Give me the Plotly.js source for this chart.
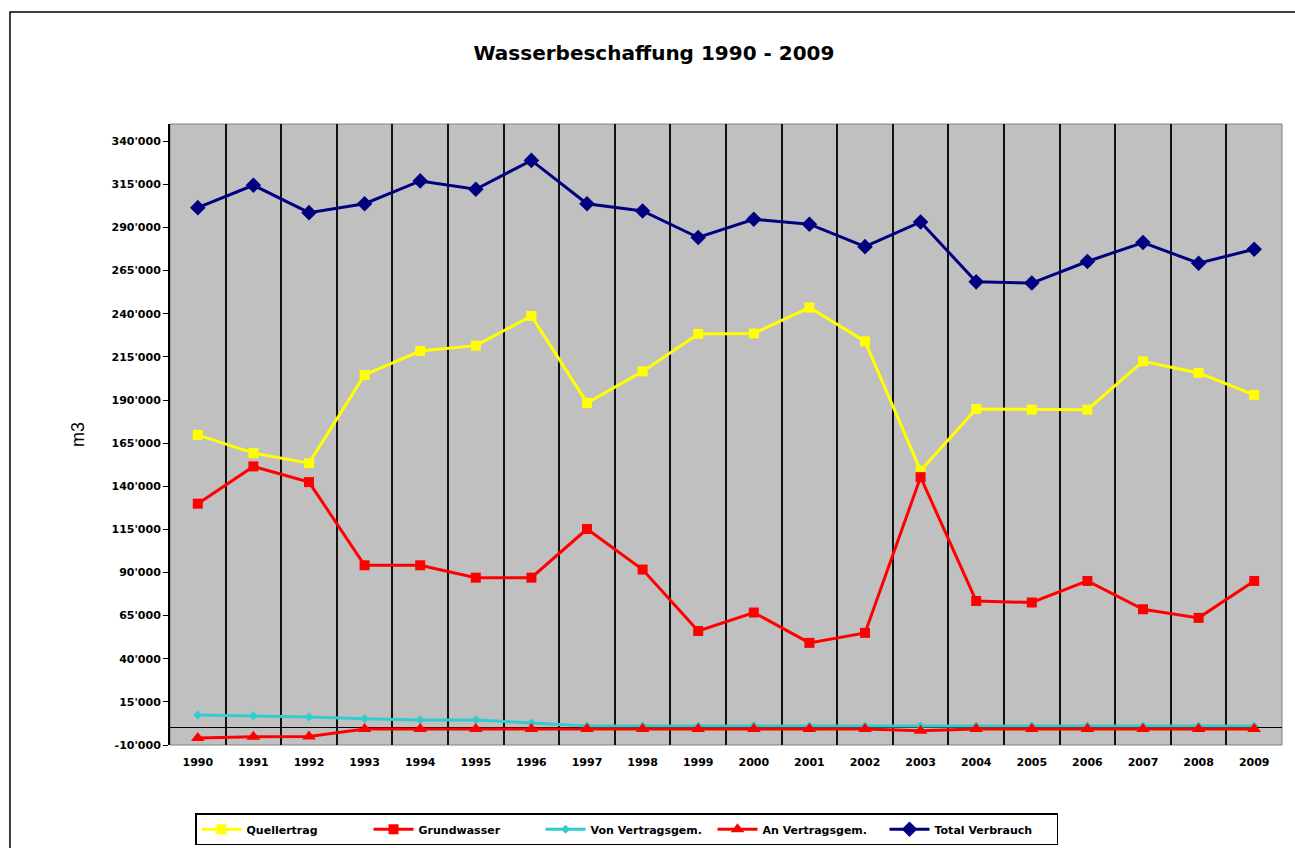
<!DOCTYPE html>
<html>
<head>
<meta charset="utf-8">
<script src="https://cdn.plot.ly/plotly-3.0.1.min.js"></script>
<style>
  html, body { margin: 0; padding: 0; background: #ffffff; }
  #chart { width: 1295px; height: 848px; }
</style>
</head>
<body>
<div id="chart"></div>
<script>
// ---- data ----
const years = ["1990","1991","1992","1993","1994","1995","1996","1997","1998","1999",
               "2000","2001","2002","2003","2004","2005","2006","2007","2008","2009"];

const quellertrag = [169800, 159200, 153400, 204500, 218400, 221500, 238700, 188300, 206600, 228300,
                     228600, 243600, 224000, 149100, 184800, 184400, 184400, 212400, 205700, 193000];

const grundwasser = [129900, 151500, 142400, 94200, 94200, 87000, 87000, 115200, 91700, 56100,
                     66800, 49200, 55000, 145300, 73500, 72600, 85100, 68700, 63700, 85100];

const vonVertragsgem = [7400, 7000, 6200, 5200, 4500, 4500, 2700, 1000, 1000, 1000,
                        1300, 1000, 1000, 1200, 1000, 1000, 1000, 1000, 1000, 1000];

const anVertragsgem = [-6000, -5200, -5000, -700, -700, -700, -700, -700, -700, -700,
                       -700, -700, -700, -1800, -700, -700, -700, -700, -700, -700];

const totalVerbrauch = [301500, 314500, 298600, 303800, 317000, 312200, 328900, 303800, 299600, 284200,
                        294800, 291900, 278900, 293200, 258500, 257800, 270300, 281300, 269300, 277400];

const seriesNames = ["Quellertrag", "Grundwasser", "Von Vertragsgem.", "An Vertragsgem.", "Total Verbrauch"];

const yTickVals = [-10000, 15000, 40000, 65000, 90000, 115000, 140000, 165000, 190000,
                   215000, 240000, 265000, 290000, 315000, 340000];
const yTickText = ["-10'000", "15'000", "40'000", "65'000", "90'000", "115'000", "140'000", "165'000", "190'000",
                   "215'000", "240'000", "265'000", "290'000", "315'000", "340'000"];

// ---- traces ----
function tr(name, y, color, symbol, size) {
  return {
    type: "scatter", mode: "lines+markers", name: name, x: years, y: y,
    line: { color: color, width: 3 },
    marker: { color: color, symbol: symbol, size: size, line: { width: 0 } },
    hoverinfo: "x+y+name"
  };
}

const data = [
  tr(seriesNames[0], quellertrag, "#ffff00", "square", 10),
  tr(seriesNames[1], grundwasser, "#ff0000", "square", 10),
  tr(seriesNames[2], vonVertragsgem, "#33cccc", "diamond", 7),
  tr(seriesNames[3], anVertragsgem, "#ff0000", "triangle-up", 12),
  tr(seriesNames[4], totalVerbrauch, "#000080", "diamond", 12)
];

const FONT = "DejaVu Sans, Verdana, sans-serif";

const layout = {
  width: 1295, height: 848,
  paper_bgcolor: "#ffffff",
  plot_bgcolor: "#c0c0c0",
  margin: { l: 170, r: 13, t: 124, b: 103, autoexpand: false },
  font: { family: FONT, color: "#000000", size: 10 },
  title: {
    text: "<b>Wasserbeschaffung 1990 - 2009</b>",
    font: { family: FONT, size: 20, color: "#000000" },
    x: 0.505, xref: "container", xanchor: "center",
    y: 0.937, yref: "container", yanchor: "middle"
  },
  showlegend: true,
  legend: {
    orientation: "h",
    x: 0.0225, xanchor: "left",
    y: -0.11, yanchor: "top",
    bgcolor: "#ffffff",
    bordercolor: "#000000", borderwidth: 1.5,
    font: { family: FONT, size: 11, color: "#000000", weight: "bold" },
    itemwidth: 40,
    entrywidth: 117, entrywidthmode: "pixels",
    traceorder: "normal",
    tracegroupgap: 0
  },
  xaxis: {
    type: "category",
    range: [-0.5, 19.5],
    tickson: "boundaries",
    showgrid: true, gridcolor: "#111111", gridwidth: 2,
    ticks: "", ticklabelstandoff: 9,
    tickfont: { family: FONT, size: 11, color: "#000000", weight: "bold" },
    showline: false,
    zeroline: false,
    fixedrange: true
  },
  yaxis: {
    range: [-10000, 350000],
    tickmode: "array", tickvals: yTickVals, ticktext: yTickText,
    ticks: "outside", ticklen: 5, tickwidth: 1, tickcolor: "#000000",
    tickfont: { family: FONT, size: 11, color: "#000000", weight: "bold" },
    showgrid: false,
    zeroline: true, zerolinecolor: "#000000", zerolinewidth: 1,
    showline: true, linecolor: "#000000", linewidth: 2,
    title: { text: "m3", font: { family: "Liberation Sans, Arial, sans-serif", size: 18, color: "#000000" }, standoff: 22 },
    fixedrange: true
  },
  shapes: [
    // plot area border
    { type: "rect", xref: "paper", yref: "paper", x0: 0, x1: 1, y0: 0, y1: 1,
      line: { color: "#808080", width: 1 }, layer: "below" },
    // outer chart frame
    { type: "rect", xref: "paper", yref: "paper", x0: -0.1439, x1: 1.02, y0: -0.175, y1: 1.1804,
      line: { color: "#000000", width: 1.5 }, fillcolor: "rgba(0,0,0,0)", layer: "above" }
  ]
};

Plotly.newPlot("chart", data, layout, { displayModeBar: false, staticPlot: true });
</script>
</body>
</html>
